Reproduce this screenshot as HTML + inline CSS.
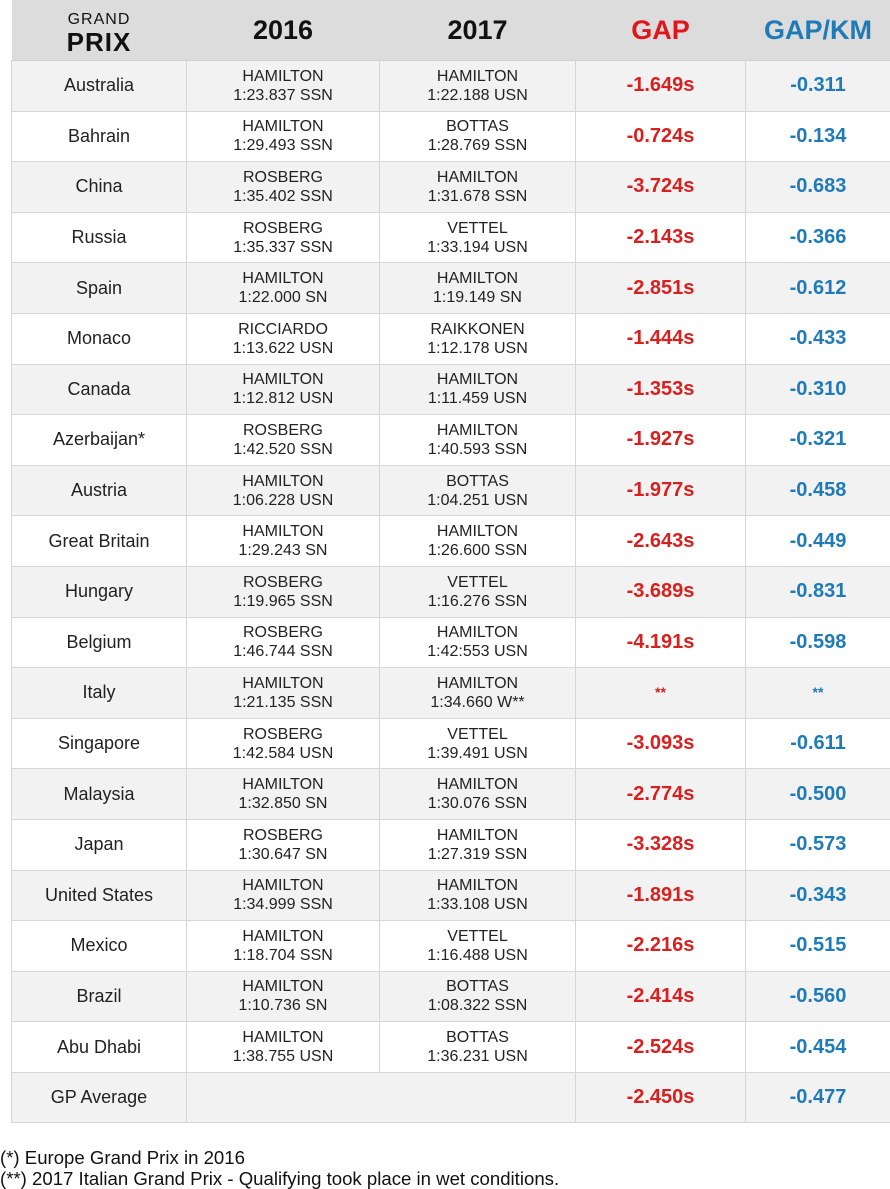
<!DOCTYPE html>
<html><head><meta charset="utf-8"><style>
body{margin:0;width:890px;height:1189px;background:#fff;font-family:"Liberation Sans",Arial,sans-serif;position:relative;overflow:hidden}
table{position:absolute;left:11px;top:0;border-collapse:collapse;width:879px;table-layout:fixed}
th{background:#dcdcdc;height:60px;font-size:27px;font-weight:bold;color:#111;padding:0;border:none}
td{height:49.6px;border:1px solid #d6d6d6;border-top-color:#d0d0d0;text-align:center;padding:0;font-size:16px;color:#222;line-height:19px}
td.c{font-size:18px}
tr.g td{background:#f2f2f2}
td.gap{color:#d8201f;font-weight:bold;font-size:20px}
td.km{color:#1f7bb8;font-weight:bold;font-size:20px}
.gp{line-height:22px;padding-top:2px}
.gp .a{font-size:16px;font-weight:normal;letter-spacing:1px}
.gp .b{font-size:26px;font-weight:bold;letter-spacing:1px}
.foot{position:absolute;left:0;top:1147px;font-size:18.6px;color:#111;line-height:21px}
</style></head><body>
<table>
<colgroup><col style="width:175px"><col style="width:193px"><col style="width:196px"><col style="width:170px"><col style="width:145px"></colgroup>
<tr><th><div class="gp"><div class="a">GRAND</div><div class="b">PRIX</div></div></th><th>2016</th><th>2017</th><th style="color:#e0161c">GAP</th><th style="color:#1f7bb8">GAP/KM</th></tr>
<tr class="g"><td class="c">Australia</td><td>HAMILTON<br>1:23.837 SSN</td><td>HAMILTON<br>1:22.188 USN</td><td class="gap">-1.649s</td><td class="km">-0.311</td></tr>
<tr><td class="c">Bahrain</td><td>HAMILTON<br>1:29.493 SSN</td><td>BOTTAS<br>1:28.769 SSN</td><td class="gap">-0.724s</td><td class="km">-0.134</td></tr>
<tr class="g"><td class="c">China</td><td>ROSBERG<br>1:35.402 SSN</td><td>HAMILTON<br>1:31.678 SSN</td><td class="gap">-3.724s</td><td class="km">-0.683</td></tr>
<tr><td class="c">Russia</td><td>ROSBERG<br>1:35.337 SSN</td><td>VETTEL<br>1:33.194 USN</td><td class="gap">-2.143s</td><td class="km">-0.366</td></tr>
<tr class="g"><td class="c">Spain</td><td>HAMILTON<br>1:22.000 SN</td><td>HAMILTON<br>1:19.149 SN</td><td class="gap">-2.851s</td><td class="km">-0.612</td></tr>
<tr><td class="c">Monaco</td><td>RICCIARDO<br>1:13.622 USN</td><td>RAIKKONEN<br>1:12.178 USN</td><td class="gap">-1.444s</td><td class="km">-0.433</td></tr>
<tr class="g"><td class="c">Canada</td><td>HAMILTON<br>1:12.812 USN</td><td>HAMILTON<br>1:11.459 USN</td><td class="gap">-1.353s</td><td class="km">-0.310</td></tr>
<tr><td class="c">Azerbaijan*</td><td>ROSBERG<br>1:42.520 SSN</td><td>HAMILTON<br>1:40.593 SSN</td><td class="gap">-1.927s</td><td class="km">-0.321</td></tr>
<tr class="g"><td class="c">Austria</td><td>HAMILTON<br>1:06.228 USN</td><td>BOTTAS<br>1:04.251 USN</td><td class="gap">-1.977s</td><td class="km">-0.458</td></tr>
<tr><td class="c">Great Britain</td><td>HAMILTON<br>1:29.243 SN</td><td>HAMILTON<br>1:26.600 SSN</td><td class="gap">-2.643s</td><td class="km">-0.449</td></tr>
<tr class="g"><td class="c">Hungary</td><td>ROSBERG<br>1:19.965 SSN</td><td>VETTEL<br>1:16.276 SSN</td><td class="gap">-3.689s</td><td class="km">-0.831</td></tr>
<tr><td class="c">Belgium</td><td>ROSBERG<br>1:46.744 SSN</td><td>HAMILTON<br>1:42:553 USN</td><td class="gap">-4.191s</td><td class="km">-0.598</td></tr>
<tr class="g"><td class="c">Italy</td><td>HAMILTON<br>1:21.135 SSN</td><td>HAMILTON<br>1:34.660 W**</td><td class="gap" style="font-size:14px">**</td><td class="km" style="font-size:14px">**</td></tr>
<tr><td class="c">Singapore</td><td>ROSBERG<br>1:42.584 USN</td><td>VETTEL<br>1:39.491 USN</td><td class="gap">-3.093s</td><td class="km">-0.611</td></tr>
<tr class="g"><td class="c">Malaysia</td><td>HAMILTON<br>1:32.850 SN</td><td>HAMILTON<br>1:30.076 SSN</td><td class="gap">-2.774s</td><td class="km">-0.500</td></tr>
<tr><td class="c">Japan</td><td>ROSBERG<br>1:30.647 SN</td><td>HAMILTON<br>1:27.319 SSN</td><td class="gap">-3.328s</td><td class="km">-0.573</td></tr>
<tr class="g"><td class="c">United States</td><td>HAMILTON<br>1:34.999 SSN</td><td>HAMILTON<br>1:33.108 USN</td><td class="gap">-1.891s</td><td class="km">-0.343</td></tr>
<tr><td class="c">Mexico</td><td>HAMILTON<br>1:18.704 SSN</td><td>VETTEL<br>1:16.488 USN</td><td class="gap">-2.216s</td><td class="km">-0.515</td></tr>
<tr class="g"><td class="c">Brazil</td><td>HAMILTON<br>1:10.736 SN</td><td>BOTTAS<br>1:08.322 SSN</td><td class="gap">-2.414s</td><td class="km">-0.560</td></tr>
<tr><td class="c">Abu Dhabi</td><td>HAMILTON<br>1:38.755 USN</td><td>BOTTAS<br>1:36.231 USN</td><td class="gap">-2.524s</td><td class="km">-0.454</td></tr>
<tr class="g"><td class="c">GP Average</td><td colspan="2"></td><td class="gap">-2.450s</td><td class="km">-0.477</td></tr>
</table>
<div class="foot">(*) Europe Grand Prix in 2016<br>(**) 2017 Italian Grand Prix - Qualifying took place in wet conditions.</div>
</body></html>
